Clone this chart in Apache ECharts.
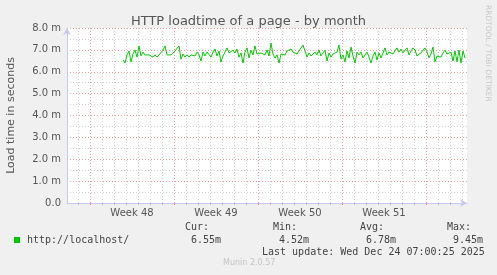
<!DOCTYPE html>
<html>
<head>
<meta charset="utf-8">
<script src="https://cdn.jsdelivr.net/npm/echarts@6/dist/echarts.min.js"></script>
<style>
html,body{margin:0;padding:0;background:#f0f0f0;}
#c{width:497px;height:275px;}
</style>
</head>
<body>
<div id="c"></div>
<script>
// Time in hours relative to Monday start of Week 48
var weekLabels = ['Week 48', 'Week 49', 'Week 50', 'Week 51'];
var weekStarts = [0, 168, 336, 504, 672];
var weekMids = [84, 252, 420, 588];
var dayLines = [-24, 24, 48, 72, 96, 120, 144, 192, 216, 240, 264, 288, 312, 360, 384, 408, 432, 456, 480, 528, 552, 576, 600, 624, 648, 696, 720, 744];
var yTickLabels = ['0.0', '1.0 m', '2.0 m', '3.0 m', '4.0 m', '5.0 m', '6.0 m', '7.0 m', '8.0 m'];
var seriesName = 'http://localhost/';
var legendStats = {cur: '6.55m', min: '4.52m', avg: '6.78m', max: '9.45m'};
var lastUpdate = 'Last update: Wed Dec 24 07:00:25 2025';
var startHour = 66, stepHours = 4;
var loadTime = [
6.54,6.40,6.77,6.95,6.45,6.81,6.99,6.67,7.18,6.72,6.90,6.77,6.81,6.77,6.72,6.67,6.77,6.67,6.77,6.72,
6.99,7.18,6.77,6.86,6.77,6.81,6.95,7.04,7.18,6.58,6.81,6.67,6.77,6.67,6.77,6.81,6.72,6.90,6.77,6.49,
6.90,6.72,6.90,6.99,6.67,6.90,7.04,6.72,6.95,6.45,6.72,6.90,7.09,6.86,6.77,6.99,6.86,7.04,6.67,6.86,
6.40,6.90,7.09,6.63,6.99,6.77,7.18,6.81,6.72,6.86,6.95,6.77,6.99,6.72,7.31,6.81,6.63,6.77,6.40,6.81,
6.90,6.77,6.95,6.86,7.04,6.90,6.99,6.81,6.95,7.09,7.22,6.95,6.67,6.86,6.72,6.81,6.90,6.77,6.99,6.72,
6.86,6.99,6.49,6.86,6.67,6.81,6.72,6.90,7.22,6.58,6.77,6.45,6.95,6.63,7.13,6.72,6.40,6.90,6.77,6.90,
6.63,6.77,6.90,6.67,6.40,6.72,6.90,6.54,6.86,6.63,6.86,7.09,6.77,6.90,6.99,6.81,6.95,7.09,6.90,7.04,
6.86,6.99,7.09,6.77,6.95,7.09,6.99,6.72,6.81,6.86,6.77,7.09,6.90,6.63,6.81,7.13,6.45,6.72,6.77,6.67,
6.86,6.99,6.81,6.72,6.90,6.49,6.95,6.45,6.99,6.40,6.95,6.63
];

var lineData = loadTime.map(function (v, i) { return [startHour + i * stepHours, v]; });
var dotted = [1, 2];
var font = 'DejaVu Sans';
var mono = 'DejaVu Sans Mono';
var txtColor = '#444';

var chart = echarts.init(document.getElementById('c'));
chart.setOption({
  backgroundColor: '#f0f0f0',
  animation: false,
  title: {
    text: 'HTTP loadtime of a page - by month',
    left: 'center', top: 10,
    textStyle: {fontFamily: font, fontSize: 13, fontWeight: 'normal', color: '#555'}
  },
  grid: {left: 67, right: 30, top: 28, bottom: 72, show: true, backgroundColor: '#ffffff', borderWidth: 0,
    containLabel: false, outerBoundsMode: 'none'},
  xAxis: [{
    type: 'value', min: -46, max: 754,
    axisLine: {show: true, onZero: false, lineStyle: {color: '#c8c8f4', width: 1}, symbol: ['none', 'arrow'], symbolSize: [6, 7]},
    axisTick: {show: true, customValues: dayLines, length: 2, lineStyle: {color: '#bbb'}},
    axisLabel: {customValues: weekMids, margin: 5, fontFamily: font, fontSize: 10, color: '#555',
      formatter: function (v) { return weekLabels[weekMids.indexOf(v)] || ''; }},
    splitLine: {show: false}
  }, {
    type: 'value', min: -46, max: 754, position: 'bottom',
    axisLine: {show: false, onZero: false},
    axisTick: {show: true, customValues: weekStarts, length: 2, lineStyle: {color: '#e88'}},
    axisLabel: {show: false},
    splitLine: {show: false}
  }],
  yAxis: {
    type: 'value', min: 0, max: 8, interval: 1,
    name: 'Load time in seconds', nameLocation: 'middle', nameGap: 50,
    nameTextStyle: {fontFamily: font, fontSize: 11, color: '#555'},
    axisLine: {show: true, onZero: false, lineStyle: {color: '#c8c8f4', width: 1}, symbol: ['none', 'arrow'], symbolSize: [6, 7]},
    axisTick: {show: false},
    axisLabel: {margin: 6, fontFamily: font, fontSize: 10, color: '#555',
      formatter: function (v) { return yTickLabels[Math.round(v)]; }},
    splitLine: {show: true, lineStyle: {color: '#e8a0a0', type: dotted, width: 1}},
    minorTick: {show: false, splitNumber: 2},
    minorSplitLine: {show: true, lineStyle: {color: '#cfcfcf', type: dotted, width: 1}}
  },
  series: [{
    type: 'line', data: [], silent: true,
    markLine: {silent: true, symbol: ['none', 'none'], label: {show: false},
      lineStyle: {color: '#cfcfcf', type: dotted, width: 1},
      data: dayLines.map(function (d) { return {xAxis: d}; })}
  }, {
    type: 'line', data: [], silent: true,
    markLine: {silent: true, symbol: ['none', 'none'], label: {show: false},
      lineStyle: {color: '#e8a0a0', type: dotted, width: 1},
      data: weekStarts.map(function (d) { return {xAxis: d}; })}
  }, {
    name: seriesName, type: 'line', data: lineData, showSymbol: false, z: 5,
    lineStyle: {color: '#00cc00', width: 1}, itemStyle: {color: '#00cc00'}
  }],
  graphic: [
    {type: 'rect', shape: {x: 14, y: 237, width: 6, height: 6}, style: {fill: '#00cc00'}},
    {type: 'text', x: 27, y: 240, style: {text: seriesName, font: '10px ' + mono, fill: txtColor, textVerticalAlign: 'middle'}},
    {type: 'text', x: 185, y: 227, style: {text: 'Cur:', font: '10px ' + mono, fill: txtColor, textVerticalAlign: 'middle'}},
    {type: 'text', x: 191, y: 240, style: {text: legendStats.cur, font: '10px ' + mono, fill: txtColor, textVerticalAlign: 'middle'}},
    {type: 'text', x: 273, y: 227, style: {text: 'Min:', font: '10px ' + mono, fill: txtColor, textVerticalAlign: 'middle'}},
    {type: 'text', x: 279, y: 240, style: {text: legendStats.min, font: '10px ' + mono, fill: txtColor, textVerticalAlign: 'middle'}},
    {type: 'text', x: 360, y: 227, style: {text: 'Avg:', font: '10px ' + mono, fill: txtColor, textVerticalAlign: 'middle'}},
    {type: 'text', x: 366, y: 240, style: {text: legendStats.avg, font: '10px ' + mono, fill: txtColor, textVerticalAlign: 'middle'}},
    {type: 'text', x: 447, y: 227, style: {text: 'Max:', font: '10px ' + mono, fill: txtColor, textVerticalAlign: 'middle'}},
    {type: 'text', x: 453, y: 240, style: {text: legendStats.max, font: '10px ' + mono, fill: txtColor, textVerticalAlign: 'middle'}},
    {type: 'text', x: 262, y: 252, style: {text: lastUpdate, font: '10px ' + mono, fill: txtColor, textVerticalAlign: 'middle'}},
    {type: 'text', x: 223, y: 263, style: {text: 'Munin 2.0.57', font: '8px ' + font, fill: '#c4c4c4', textVerticalAlign: 'middle'}},
    {type: 'text', x: 488, y: 5, rotation: -Math.PI / 2, style: {text: 'RRDTOOL / TOBI OETIKER', font: '7.5px ' + font, fill: '#c8c8c8', textAlign: 'left', textVerticalAlign: 'middle'}}
  ]
});
</script>
</body>
</html>
